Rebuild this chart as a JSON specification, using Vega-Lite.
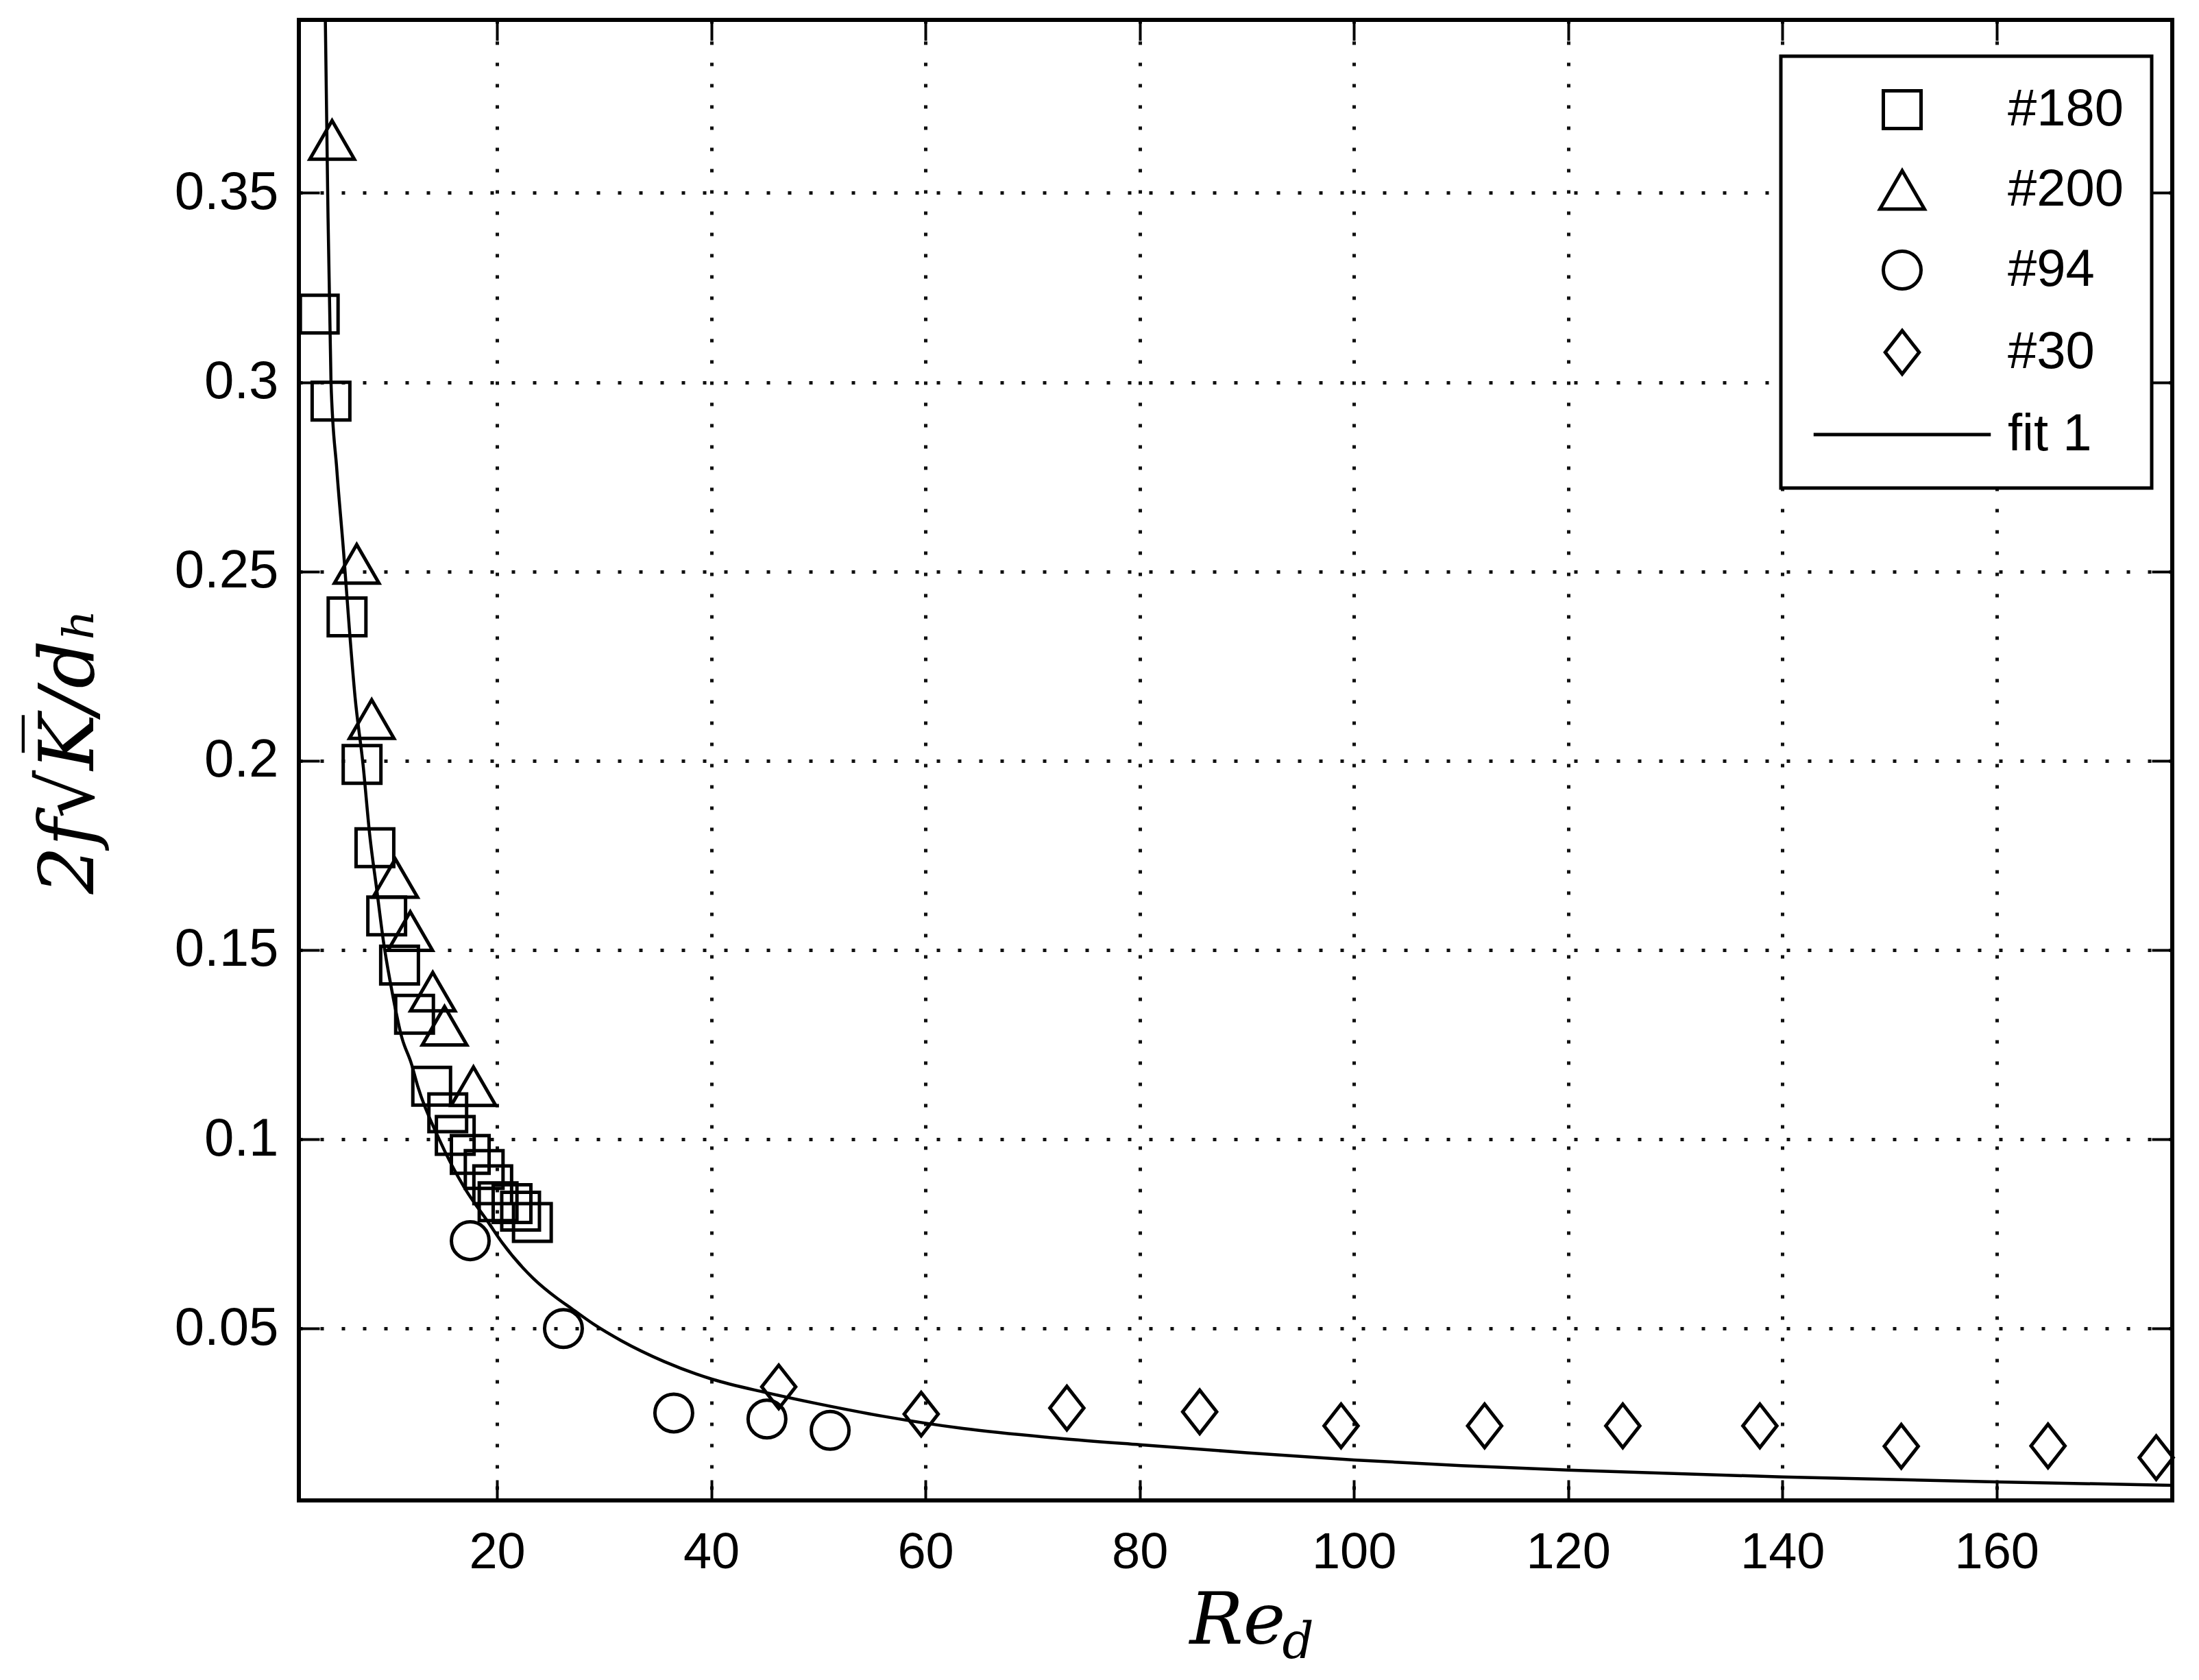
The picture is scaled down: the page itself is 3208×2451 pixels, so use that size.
{
  "$schema": "https://vega.github.io/schema/vega-lite/v6.json",
  "width": 2733,
  "height": 2160,
  "autosize": {"type": "none"},
  "padding": {"left": 436, "top": 29, "right": 39, "bottom": 262},
  "background": "white",
  "config": {
    "view": {"stroke": "black", "strokeWidth": 6},
    "axis": {
      "labelFont": "Liberation Sans",
      "labelFontSize": 74,
      "labelColor": "black",
      "tickColor": "black",
      "tickWidth": 4,
      "tickSize": -30,
      "domain": false,
      "gridColor": "#111111",
      "gridWidth": 5,
      "gridDash": [5, 26],
      "titleColor": "black"
    },
    "legend": {"strokeWidth": 5}
  },
  "datasets": {
    "pts": [
      {"series": "#180", "Re": 3.4, "f": 0.318},
      {"series": "#180", "Re": 4.5, "f": 0.295},
      {"series": "#180", "Re": 6.0, "f": 0.238},
      {"series": "#180", "Re": 7.4, "f": 0.199},
      {"series": "#180", "Re": 8.6, "f": 0.177},
      {"series": "#180", "Re": 9.7, "f": 0.159},
      {"series": "#180", "Re": 10.9, "f": 0.146},
      {"series": "#180", "Re": 12.3, "f": 0.133},
      {"series": "#180", "Re": 13.9, "f": 0.114},
      {"series": "#180", "Re": 15.4, "f": 0.107},
      {"series": "#180", "Re": 16.1, "f": 0.101},
      {"series": "#180", "Re": 17.5, "f": 0.096},
      {"series": "#180", "Re": 18.8, "f": 0.092},
      {"series": "#180", "Re": 19.6, "f": 0.088},
      {"series": "#180", "Re": 20.1, "f": 0.0835},
      {"series": "#180", "Re": 21.4, "f": 0.083},
      {"series": "#180", "Re": 22.2, "f": 0.081},
      {"series": "#180", "Re": 23.3, "f": 0.078},
      {"series": "#200", "Re": 4.6, "f": 0.364},
      {"series": "#200", "Re": 6.9, "f": 0.252},
      {"series": "#200", "Re": 8.3, "f": 0.211},
      {"series": "#200", "Re": 10.5, "f": 0.169},
      {"series": "#200", "Re": 11.9, "f": 0.155},
      {"series": "#200", "Re": 14.0, "f": 0.139},
      {"series": "#200", "Re": 15.1, "f": 0.130},
      {"series": "#200", "Re": 17.8, "f": 0.114},
      {"series": "#94", "Re": 17.5, "f": 0.0732},
      {"series": "#94", "Re": 26.2, "f": 0.050},
      {"series": "#94", "Re": 36.5, "f": 0.0277},
      {"series": "#94", "Re": 45.2, "f": 0.0261},
      {"series": "#94", "Re": 51.1, "f": 0.0231},
      {"series": "#30", "Re": 46.3, "f": 0.0346},
      {"series": "#30", "Re": 59.6, "f": 0.0274},
      {"series": "#30", "Re": 73.2, "f": 0.029},
      {"series": "#30", "Re": 85.6, "f": 0.028},
      {"series": "#30", "Re": 98.8, "f": 0.0243},
      {"series": "#30", "Re": 112.2, "f": 0.0243},
      {"series": "#30", "Re": 125.1, "f": 0.0243},
      {"series": "#30", "Re": 137.9, "f": 0.0243},
      {"series": "#30", "Re": 151.1, "f": 0.0189},
      {"series": "#30", "Re": 164.8, "f": 0.019},
      {"series": "#30", "Re": 174.9, "f": 0.0159}
    ],
    "fit": [
      {"Re": 3.97, "f": 0.396},
      {"Re": 4.18, "f": 0.352},
      {"Re": 4.5, "f": 0.300},
      {"Re": 5.04, "f": 0.277},
      {"Re": 5.68, "f": 0.255},
      {"Re": 6.21, "f": 0.235},
      {"Re": 6.74, "f": 0.217},
      {"Re": 7.49, "f": 0.199},
      {"Re": 8.13, "f": 0.180},
      {"Re": 8.77, "f": 0.166},
      {"Re": 9.41, "f": 0.152},
      {"Re": 10.2, "f": 0.139},
      {"Re": 11.1, "f": 0.127},
      {"Re": 12.0, "f": 0.120},
      {"Re": 12.6, "f": 0.114},
      {"Re": 14.6, "f": 0.100},
      {"Re": 17.0, "f": 0.087},
      {"Re": 19.2, "f": 0.078},
      {"Re": 20.5, "f": 0.0726},
      {"Re": 23.4, "f": 0.0632},
      {"Re": 25.6, "f": 0.0580},
      {"Re": 27.0, "f": 0.0552},
      {"Re": 29.0, "f": 0.0512},
      {"Re": 31.6, "f": 0.0468},
      {"Re": 35.6, "f": 0.0413},
      {"Re": 40.1, "f": 0.0366},
      {"Re": 45.1, "f": 0.0331},
      {"Re": 50.0, "f": 0.0301},
      {"Re": 56.1, "f": 0.0268},
      {"Re": 63.5, "f": 0.0236},
      {"Re": 72.5, "f": 0.0210},
      {"Re": 80, "f": 0.0193},
      {"Re": 90, "f": 0.0172},
      {"Re": 100, "f": 0.0153},
      {"Re": 110, "f": 0.0138},
      {"Re": 120, "f": 0.0126},
      {"Re": 140, "f": 0.0108},
      {"Re": 160, "f": 0.0095},
      {"Re": 176.4, "f": 0.0086}
    ]
  },
  "layer": [
    {
      "data": {"name": "fit"},
      "mark": {"type": "line", "color": "black", "strokeWidth": 4.5, "clip": true, "interpolate": "monotone"},
      "encoding": {
        "x": {
          "field": "Re", "type": "quantitative",
          "scale": {"domain": [1.5, 176.4], "nice": false, "zero": false},
          "axis": {"orient": "top", "labels": false, "grid": false, "values": [20, 40, 60, 80, 100, 120, 140, 160],
                   "title": "d", "titleFont": "DejaVu Serif", "titleFontStyle": "italic", "titleFontWeight": "normal",
                   "titleFontSize": 72, "titleX": 1434, "titleY": 2389, "titleAlign": "left", "titleBaseline": "alphabetic", "titleAngle": 0}
        },
        "y": {
          "field": "f", "type": "quantitative",
          "scale": {"domain": [0.0046, 0.3957], "nice": false, "zero": false},
          "axis": {"orient": "right", "labels": false, "grid": false, "values": [0.05, 0.1, 0.15, 0.2, 0.25, 0.3, 0.35], "title": null}
        }
      }
    },
    {
      "data": {"name": "pts"},
      "mark": {"type": "point", "filled": false, "color": "black", "strokeWidth": 5, "opacity": 1, "size": 3025},
      "encoding": {
        "x": {
          "field": "Re", "type": "quantitative",
          "axis": {"orient": "bottom", "values": [20, 40, 60, 80, 100, 120, 140, 160], "labelPadding": 70, "grid": true,
                   "title": "Re", "titleFont": "DejaVu Serif", "titleFontStyle": "italic", "titleFontWeight": "normal",
                   "titleFontSize": 104, "titleX": 1299, "titleY": 208, "titleAlign": "left", "titleBaseline": "alphabetic"}
        },
        "y": {
          "field": "f", "type": "quantitative",
          "axis": {"orient": "left", "values": [0.05, 0.1, 0.15, 0.2, 0.25, 0.3, 0.35], "format": ".2~f", "labelPadding": 60, "labelFontSize": 78, "grid": true,
                   "title": "2f√K\u0305/dₕ", "titleFont": "DejaVu Serif", "titleFontStyle": "italic", "titleFontWeight": "normal",
                   "titleFontSize": 110, "titleX": -301, "titleY": 1066, "titleAlign": "center", "titleBaseline": "alphabetic", "titleAngle": -90}
        },
        "shape": {
          "field": "series", "type": "nominal",
          "scale": {
            "domain": ["#180", "#200", "#94", "#30", "fit 1"],
            "range": ["square", "M0,-1.02L1.18,1.02L-1.18,1.02Z", "circle", "M0,-1.15L0.9,0L0,1.15L-0.9,0Z", "M-4.7,0L4.7,0"]
          },
          "legend": {
            "orient": "none", "legendX": 2162, "legendY": 53, "title": null,
            "padding": 40, "strokeColor": "black", "fillColor": "white", "cornerRadius": 0,
            "labelFont": "Liberation Sans", "labelFontSize": 76, "labelColor": "black", "labelLimit": 0,
            "symbolSize": 3025, "symbolStrokeWidth": 5, "symbolStrokeColor": "black", "symbolOpacity": 1,
            "symbolOffset": 99, "labelOffset": 116, "rowPadding": 40,
            "encode": {"labels": {"update": {"dx": {"signal": "datum.value === 'fit 1' ? 50 : 0"}}}}
          }
        }
      }
    }
  ],
  "resolve": {"axis": {"x": "independent", "y": "independent"}}
}
